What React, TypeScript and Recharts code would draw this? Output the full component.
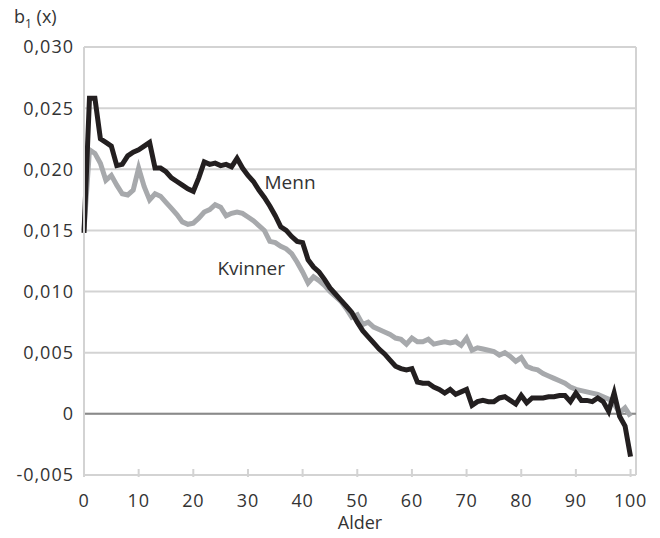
import { LineChart, Line, XAxis, YAxis, CartesianGrid, ReferenceLine, ReferenceDot } from "recharts";

const ages = Array.from({ length: 101 }, (_, i) => i);

const menn = [
  0.0148, 0.0258, 0.0258, 0.0225, 0.0222, 0.0219, 0.0203, 0.0204, 0.0211, 0.0214,
  0.0216, 0.0219, 0.0222, 0.0201, 0.0201, 0.0198, 0.0193, 0.019, 0.0187, 0.0184,
  0.0182, 0.0193, 0.0206, 0.0204, 0.0205, 0.0203, 0.0204, 0.0202, 0.0209, 0.0201,
  0.0195, 0.019, 0.0183, 0.0177, 0.017, 0.0162, 0.0153, 0.015, 0.0145, 0.0141,
  0.014, 0.0126, 0.012, 0.0116, 0.011, 0.0103, 0.0098, 0.0093, 0.0088, 0.0083,
  0.0075, 0.0068, 0.0063, 0.0058, 0.0053, 0.0049, 0.0044, 0.0039, 0.0037, 0.0036,
  0.0037, 0.0026, 0.0025, 0.0025, 0.0022, 0.002, 0.0017, 0.002, 0.0016, 0.0018,
  0.002, 0.0007, 0.001, 0.0011, 0.001, 0.001, 0.0013, 0.0014, 0.0011, 0.0008,
  0.0015, 0.0009, 0.0013, 0.0013, 0.0013, 0.0014, 0.0014, 0.0015, 0.0015, 0.001,
  0.0017, 0.0011, 0.0011, 0.001, 0.0013, 0.001, 0.0002, 0.0017, -0.0002, -0.001,
  -0.0035,
];

const kvinner = [
  0.015, 0.0216, 0.0213, 0.0205, 0.0191, 0.0195, 0.0187, 0.018, 0.0179, 0.0183,
  0.0201, 0.0186, 0.0175, 0.018, 0.0178, 0.0173, 0.0168, 0.0163, 0.0157, 0.0155,
  0.0156, 0.016, 0.0165, 0.0167, 0.0171, 0.0169, 0.0162, 0.0164, 0.0165, 0.0164,
  0.0161, 0.0158, 0.0154, 0.015, 0.0141, 0.014, 0.0137, 0.0135, 0.0131, 0.0124,
  0.0116, 0.0107, 0.0112, 0.0109, 0.0105, 0.01, 0.0096, 0.0092, 0.0086, 0.0079,
  0.0081, 0.0073, 0.0075, 0.0071, 0.0069, 0.0067, 0.0065, 0.0062, 0.0061, 0.0057,
  0.0062, 0.0059, 0.0059, 0.0061, 0.0057, 0.0058, 0.0059, 0.0058, 0.0059, 0.0056,
  0.0062, 0.0052, 0.0054, 0.0053, 0.0052, 0.0051, 0.0048, 0.005, 0.0047, 0.0043,
  0.0046, 0.0039, 0.0037, 0.0036, 0.0033, 0.0031, 0.0029, 0.0027, 0.0025, 0.0022,
  0.002, 0.0019, 0.0018, 0.0017, 0.0016, 0.0014, 0.0012, 0.0008, 0.0001, 0.0005,
  -0.0002,
];

const xTicks = [0, 10, 20, 30, 40, 50, 60, 70, 80, 90, 100];
const yTicks = [-0.005, 0, 0.005, 0.01, 0.015, 0.02, 0.025, 0.03];

const data = ages.map((a, i) => ({ age: a, menn: menn[i], kvinner: kvinner[i] }));

const FONT = "'Open Sans', sans-serif";
const TEXT = "#333333";
const GRID = "#d3d3d3";

const fmtY = (v: number) => (v === 0 ? "0" : v.toFixed(3).replace(".", ","));

function XTick(props: any) {
  const { x, y, payload } = props;
  return (
    <g>
      <line x1={x} x2={x} y1={y} y2={y - 8} stroke={GRID} strokeWidth={2} />
      <text
        x={x}
        y={y + 30}
        textAnchor="middle"
        fill={TEXT}
        fontSize={18}
        fontFamily={FONT}
        letterSpacing={0.8}
      >
        {payload.value}
      </text>
    </g>
  );
}

export default function App() {
  return (
    <div style={{ position: "absolute", left: 0, top: 0, width: 660, height: 538, background: "#fff" }}>
      <div
        style={{
          position: "absolute",
          left: 14,
          top: 4,
          fontFamily: FONT,
          fontSize: 18,
          color: TEXT,
        }}
      >
        b<sub style={{ fontSize: 12 }}>1</sub> (x)
      </div>
      <LineChart width={660} height={538} data={data} margin={{ top: 47, right: 24, left: 8, bottom: 5 }}>
        <CartesianGrid vertical={false} stroke={GRID} strokeWidth={2} />
        <XAxis
          dataKey="age"
          type="number"
          domain={[0, 101]}
          ticks={xTicks}
          height={58}
          tickLine={false}
          tickSize={0}
          axisLine={{ stroke: GRID, strokeWidth: 2 }}
          tick={<XTick />}
          label={{ value: "Alder", position: "insideBottom", offset: 4, fill: TEXT, fontSize: 18, fontFamily: FONT }}
        />
        <YAxis
          type="number"
          domain={[-0.005, 0.03]}
          ticks={yTicks}
          width={76}
          tickLine={false}
          tickSize={0}
          tickMargin={10}
          axisLine={{ stroke: GRID, strokeWidth: 2 }}
          tickFormatter={fmtY}
          tick={{ fill: TEXT, fontSize: 18, fontFamily: FONT, letterSpacing: 1 }}
        />
        <ReferenceLine x={101} stroke={GRID} strokeWidth={2} />
        <ReferenceLine y={0} stroke="#8a8a8a" strokeWidth={2} />
        <Line
          type="linear"
          dataKey="kvinner"
          stroke="#a7a9ac"
          strokeWidth={5}
          dot={false}
          isAnimationActive={false}
        />
        <Line
          type="linear"
          dataKey="menn"
          stroke="#231f20"
          strokeWidth={5}
          dot={false}
          isAnimationActive={false}
        />
        <ReferenceDot
          x={37.7}
          y={0.0189}
          r={0}
          stroke="none"
          label={{ value: "Menn", position: "center", fill: TEXT, fontSize: 19, fontFamily: FONT }}
        />
        <ReferenceDot
          x={30.6}
          y={0.0119}
          r={0}
          stroke="none"
          label={{ value: "Kvinner", position: "center", fill: TEXT, fontSize: 19, fontFamily: FONT }}
        />
      </LineChart>
    </div>
  );
}
